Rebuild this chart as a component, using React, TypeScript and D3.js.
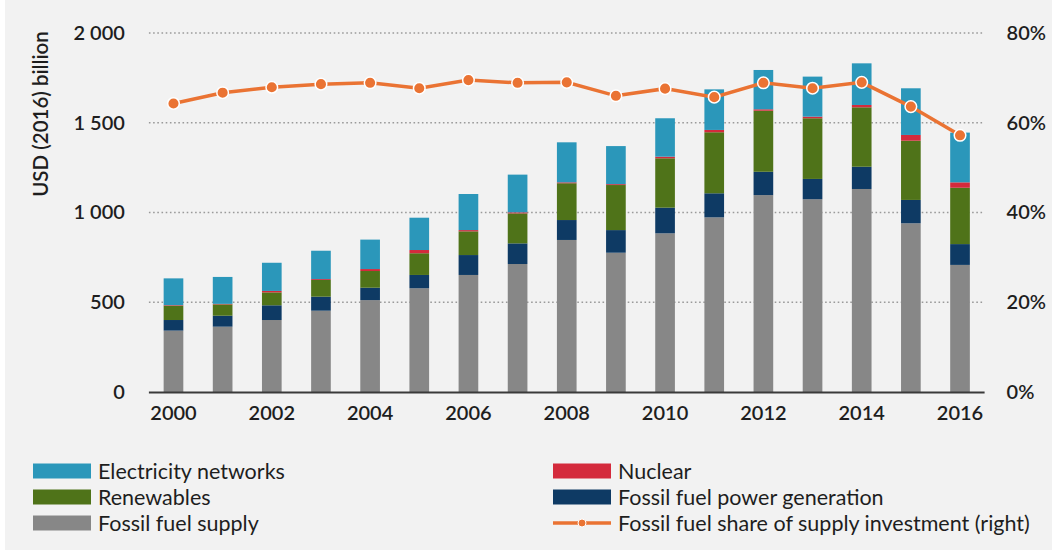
import React from "react";
import * as d3 from "d3";

const years = [
  "2000", "2001", "2002", "2003", "2004", "2005", "2006", "2007", "2008",
  "2009", "2010", "2011", "2012", "2013", "2014", "2015", "2016",
];

// USD (2016) billion, stacked bottom to top
const fossilSupply = [342, 364, 401, 453, 512, 578, 652, 713, 847, 776, 884, 973, 1097, 1074, 1131, 940, 708];
const fossilPower = [59, 61, 82, 78, 69, 74, 111, 115, 111, 126, 143, 134, 130, 113, 124, 130, 116];
const renewables = [80, 63, 72, 93, 93, 121, 132, 167, 205, 251, 275, 340, 340, 338, 331, 330, 314];
const nuclear = [3, 3, 8, 5, 11, 18, 7, 6, 5, 5, 9, 13, 8, 9, 13, 32, 30];
const networks = [149, 150, 157, 158, 164, 180, 201, 210, 223, 212, 214, 226, 219, 223, 232, 260, 277];

// fossil fuel share of supply investment, %
const fossilShare = [64.3, 66.7, 67.9, 68.6, 68.9, 67.7, 69.5, 68.9, 69.0, 66.0, 67.6, 65.7, 68.9, 67.7, 69.0, 63.6, 57.2];

const leftTicks = [0, 500, 1000, 1500, 2000];
const rightTicks = [0, 20, 40, 60, 80];

type SeriesDef = { key: string; label: string; color: string; values: number[] };

const series: SeriesDef[] = [
  { key: "supply", label: "Fossil fuel supply", color: "#878787", values: fossilSupply },
  { key: "power", label: "Fossil fuel power generation", color: "#0e3a64", values: fossilPower },
  { key: "ren", label: "Renewables", color: "#4f7319", values: renewables },
  { key: "nuc", label: "Nuclear", color: "#d42a3c", values: nuclear },
  { key: "net", label: "Electricity networks", color: "#2b97ba", values: networks },
];

const lineColor = "#ea7333";
const font = "Lato, 'Open Sans', sans-serif";
const textColor = "#1e1e1e";

const App: React.FC = () => {
  const svgRef = React.useRef<SVGSVGElement>(null);
  const W = 1060;
  const H = 558;
  const plot = { left: 148.9, right: 984.6, top: 33, bottom: 392 };

  React.useEffect(() => {
    const svgEl = d3.select(svgRef.current);
    svgEl.selectAll("*").remove();

    // background panel
    svgEl.append("rect").attr("width", W).attr("height", H).attr("fill", "#ffffff");
    svgEl
      .append("rect")
      .attr("x", 5)
      .attr("y", 0)
      .attr("width", 1047)
      .attr("height", 550)
      .attr("fill", "#f2f2f2");

    const x = d3
      .scaleBand<string>()
      .domain(years)
      .range([plot.left, plot.right])
      .paddingInner(0.6)
      .paddingOuter(0.3);

    const y = d3.scaleLinear().domain([0, 2000]).range([plot.bottom, plot.top]);
    const y2 = d3.scaleLinear().domain([0, 80]).range([plot.bottom, plot.top]);

    // gridlines
    svgEl
      .append("g")
      .selectAll("line")
      .data(leftTicks.filter((d) => d > 0))
      .join("line")
      .attr("x1", plot.left)
      .attr("x2", plot.right)
      .attr("y1", (d) => y(d))
      .attr("y2", (d) => y(d))
      .attr("stroke", "#9a9a9a")
      .attr("stroke-width", 1.6)
      .attr("stroke-dasharray", "1.6 2.6");

    // stacked bars
    const table = years.map((yr, i) => {
      const row: Record<string, any> = { year: yr };
      series.forEach((s) => (row[s.key] = s.values[i]));
      return row;
    });
    const stack = d3.stack<Record<string, any>>().keys(series.map((s) => s.key));
    const stacked = stack(table);

    const gBars = svgEl.append("g");
    stacked.forEach((layer, li) => {
      gBars
        .append("g")
        .attr("fill", series[li].color)
        .selectAll("rect")
        .data(layer)
        .join("rect")
        .attr("x", (d) => x(d.data.year)!)
        .attr("width", x.bandwidth())
        .attr("y", (d) => y(d[1]))
        .attr("height", (d) => y(d[0]) - y(d[1]));
    });

    // x axis line
    svgEl
      .append("line")
      .attr("x1", plot.left)
      .attr("x2", plot.right)
      .attr("y1", plot.bottom + 0.5)
      .attr("y2", plot.bottom + 0.5)
      .attr("stroke", "#3a3a3a")
      .attr("stroke-width", 2);

    const styleTicks = (g: d3.Selection<SVGGElement, unknown, null, undefined>) => {
      g.select(".domain").remove();
      g.selectAll("text")
        .attr("font-family", font)
        .attr("font-size", 20)
        .attr("font-weight", 600)
        .attr("fill", textColor);
    };

    // x labels
    const xAxis = d3
      .axisBottom(x)
      .tickValues(years.filter((_, i) => i % 2 === 0))
      .tickSize(0)
      .tickPadding(14);
    svgEl
      .append("g")
      .attr("transform", `translate(0,${plot.bottom})`)
      .call(xAxis)
      .call(styleTicks);

    // left axis
    const yAxis = d3
      .axisLeft(y)
      .tickValues(leftTicks)
      .tickSize(0)
      .tickPadding(24)
      .tickFormat((d) => d3.format(",")(d as number).replace(",", " "));
    svgEl
      .append("g")
      .attr("transform", `translate(${plot.left},0)`)
      .call(yAxis)
      .call(styleTicks);

    // right axis
    const y2Axis = d3
      .axisRight(y2)
      .tickValues(rightTicks)
      .tickSize(0)
      .tickPadding(22)
      .tickFormat((d) => `${d}%`);
    svgEl
      .append("g")
      .attr("transform", `translate(${plot.right},0)`)
      .call(y2Axis)
      .call(styleTicks);

    // y title
    svgEl
      .append("text")
      .attr("transform", `translate(48,114) rotate(-90)`)
      .attr("text-anchor", "middle")
      .attr("font-family", font)
      .attr("font-size", 20.5)
      .attr("font-weight", 600)
      .attr("fill", textColor)
      .text("USD (2016) billion");

    // share line
    const cx = (yr: string) => x(yr)! + x.bandwidth() / 2;
    const line = d3
      .line<number>()
      .x((_, i) => cx(years[i]))
      .y((d) => y2(d));
    svgEl
      .append("path")
      .attr("d", line(fossilShare))
      .attr("fill", "none")
      .attr("stroke", lineColor)
      .attr("stroke-width", 3.5);
    svgEl
      .append("g")
      .selectAll("circle")
      .data(fossilShare)
      .join("circle")
      .attr("cx", (_, i) => cx(years[i]))
      .attr("cy", (d) => y2(d))
      .attr("r", 5.8)
      .attr("fill", lineColor)
      .attr("stroke", "#ffffff")
      .attr("stroke-width", 1.5);

    // legend
    const legendItems = [
      { label: "Electricity networks", color: series[4].color, col: 0, row: 0 },
      { label: "Renewables", color: series[2].color, col: 0, row: 1 },
      { label: "Fossil fuel supply", color: series[0].color, col: 0, row: 2 },
      { label: "Nuclear", color: series[3].color, col: 1, row: 0 },
      { label: "Fossil fuel power generation", color: series[1].color, col: 1, row: 1 },
    ];
    const colX = [33, 553];
    const rowY = [471, 497, 523];
    const gLeg = svgEl.append("g");
    const legendText = (tx: number, ty: number, label: string) =>
      gLeg
        .append("text")
        .attr("x", tx)
        .attr("y", ty)
        .attr("dy", "0.35em")
        .attr("font-family", font)
        .attr("font-size", 21.5)
        .attr("fill", textColor)
        .text(label);
    legendItems.forEach((it) => {
      gLeg
        .append("rect")
        .attr("x", colX[it.col])
        .attr("y", rowY[it.row] - 7.5)
        .attr("width", 58)
        .attr("height", 15)
        .attr("fill", it.color);
      legendText(colX[it.col] + 65, rowY[it.row], it.label);
    });
    const ly = rowY[2];
    gLeg
      .append("line")
      .attr("x1", colX[1])
      .attr("x2", colX[1] + 58)
      .attr("y1", ly)
      .attr("y2", ly)
      .attr("stroke", lineColor)
      .attr("stroke-width", 3.5);
    gLeg
      .append("circle")
      .attr("cx", colX[1] + 29)
      .attr("cy", ly)
      .attr("r", 4)
      .attr("fill", lineColor)
      .attr("stroke", "#ffffff")
      .attr("stroke-width", 1);
    legendText(colX[1] + 65, ly, "Fossil fuel share of supply investment (right)");
  }, []);

  return (
    <div style={{ position: "absolute", left: 0, top: 0 }}>
      <svg ref={svgRef} width={W} height={H} style={{ display: "block" }} />
    </div>
  );
};

export default App;
